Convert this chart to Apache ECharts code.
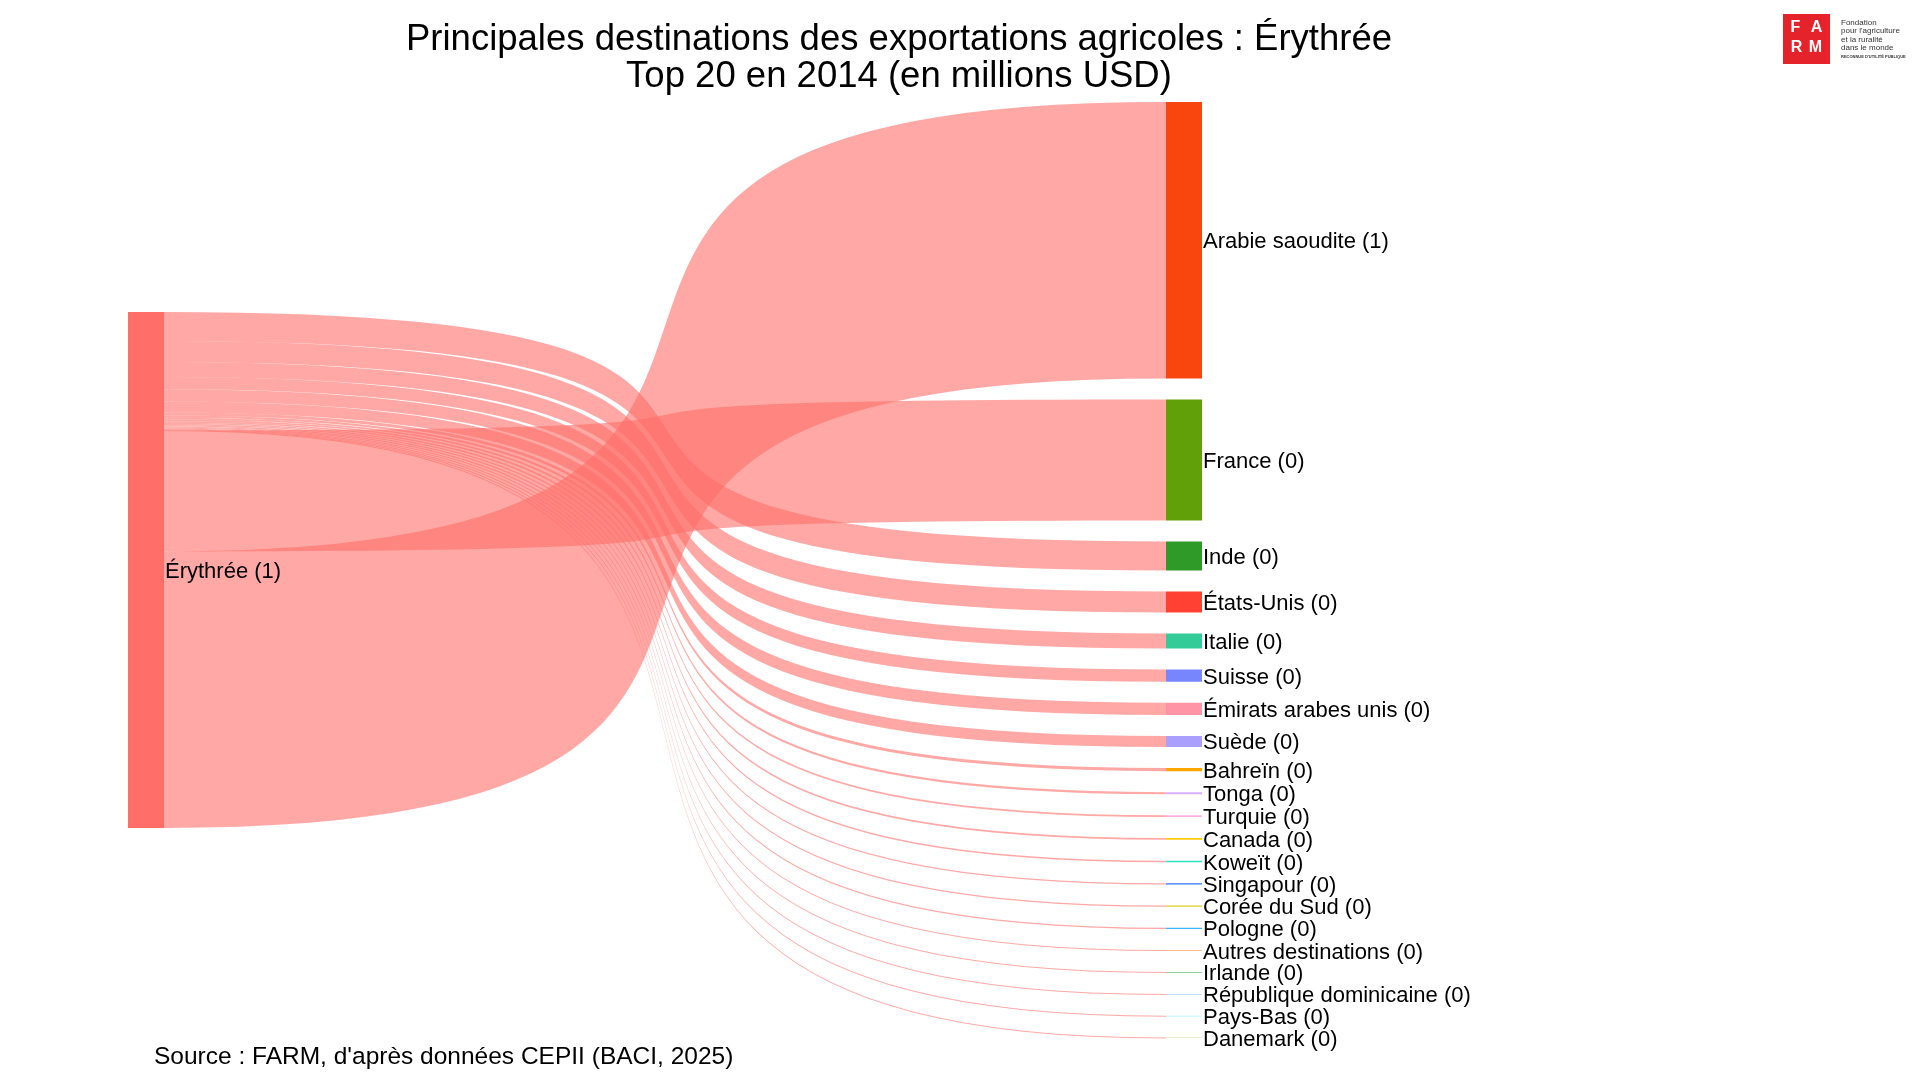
<!DOCTYPE html>
<html>
<head>
<meta charset="UTF-8">
<title>Exportations agricoles Érythrée</title>
<script type="text/javascript" src="https://cdn.jsdelivr.net/npm/echarts@6/dist/echarts.min.js"></script>
<style>
html,body{margin:0;padding:0;background:#fff;}
</style>
</head>
<body>
<div id="main" style="width:1920px;height:1080px;"></div>

<script type="text/javascript">
// pays exportateur
var source = 'Érythrée';
// destinations, de haut en bas
var destinations = ['Arabie saoudite', 'France', 'Inde', 'États-Unis', 'Italie', 'Suisse',
  'Émirats arabes unis', 'Suède', 'Bahreïn', 'Tonga', 'Turquie', 'Canada', 'Koweït',
  'Singapour', 'Corée du Sud', 'Pologne', 'Autres destinations', 'Irlande',
  'République dominicaine', 'Pays-Bas', 'Danemark'];
// valeurs en millions USD
var values = [0.75, 0.328, 0.0785, 0.0569, 0.0406, 0.0333, 0.0332, 0.0298, 0.0087, 0.0057,
  0.005, 0.0043, 0.0042, 0.0037, 0.0034, 0.003, 0.0028, 0.0025, 0.0022, 0.002, 0.0015];
// ordre des flux au départ du noeud source (les deux plus gros en bas, comme sur l'original)
var linkOrder = [2, 3, 4, 5, 6, 7, 8, 9, 10, 11, 12, 13, 14, 15, 16, 17, 18, 19, 20, 1, 0];

var sourceColor = '#ff6e69';
var destColors = ['#f9460f', '#62a00a', '#2f9a28', '#ff4133', '#33cc99', '#7886fe',
  '#ff94a6', '#aa9ffd', '#ffa500', '#d8b0ff', '#ffb0ec', '#ffc700', '#2ee0c0',
  '#2f74ff', '#d6d01a', '#38b8ff', '#ffbd8a', '#8ccc9a', '#aed4ff', '#a8f0ff', '#d4e4a8'];

var mychart = echarts.init(document.getElementById('main'));

var layoutTop = 102, layoutHeight = 936, gap = 21;

// echelle verticale identique a celle de la serie sankey
var total = 0;
for (var i = 0; i < values.length; i++) total += values[i];
var ky = (layoutHeight - (destinations.length - 1) * gap) / total;

// position de chaque destination (empilement de haut en bas)
var posY = [];
var acc = 0;
for (var i = 0; i < destinations.length; i++) {
  posY.push(acc / layoutHeight);
  acc += values[i] * ky + gap;
}

// noeuds et liens
var nodes = [{
  name: source,
  itemStyle: {color: sourceColor},
  localY: (layoutHeight - total * ky) / 2 / layoutHeight
}];
var links = [];
for (var k = 0; k < linkOrder.length; k++) {
  var i = linkOrder[k];
  nodes.push({name: destinations[i], itemStyle: {color: destColors[i]}, localY: posY[i]});
  links.push({source: source, target: destinations[i], value: values[i]});
}

var font = '"Liberation Sans", Arial, sans-serif';

var option = {
  backgroundColor: '#fff',
  animation: false,
  graphic: [
    {type: 'text', x: 899, y: 40, style: {text: 'Principales destinations des exportations agricoles : Érythrée',
      font: '36.5px ' + font, fill: '#000', align: 'center', verticalAlign: 'middle'}},
    {type: 'text', x: 899, y: 77, style: {text: 'Top 20 en 2014 (en millions USD)',
      font: '36.5px ' + font, fill: '#000', align: 'center', verticalAlign: 'middle'}},
    {type: 'text', x: 154, y: 1057, style: {text: "Source : FARM, d'après données CEPII (BACI, 2025)",
      font: '24.5px ' + font, fill: '#000', align: 'left', verticalAlign: 'middle'}},
    // logo FARM
    {type: 'rect', shape: {x: 1783, y: 14, width: 47, height: 50}, style: {fill: '#e5232b'}},
    {type: 'text', x: 1795.5, y: 28, style: {text: 'F', font: 'bold 16px ' + font, fill: '#fff', align: 'center', verticalAlign: 'middle'}},
    {type: 'text', x: 1816.5, y: 28, style: {text: 'A', font: 'bold 16px ' + font, fill: '#fff', align: 'center', verticalAlign: 'middle'}},
    {type: 'text', x: 1796.5, y: 48, style: {text: 'R', font: 'bold 16px ' + font, fill: '#fff', align: 'center', verticalAlign: 'middle'}},
    {type: 'text', x: 1815.5, y: 48, style: {text: 'M', font: 'bold 16px ' + font, fill: '#fff', align: 'center', verticalAlign: 'middle'}},
    {type: 'text', x: 1841, y: 23, style: {text: 'Fondation', font: '8px ' + font, fill: '#333', verticalAlign: 'middle'}},
    {type: 'text', x: 1841, y: 31, style: {text: "pour l'agriculture", font: '8px ' + font, fill: '#333', verticalAlign: 'middle'}},
    {type: 'text', x: 1841, y: 39.5, style: {text: 'et la ruralité', font: '8px ' + font, fill: '#333', verticalAlign: 'middle'}},
    {type: 'text', x: 1841, y: 48, style: {text: 'dans le monde', font: '8px ' + font, fill: '#333', verticalAlign: 'middle'}},
    {type: 'text', x: 1841, y: 57, style: {text: "RECONNUE D'UTILITÉ PUBLIQUE", font: 'bold 4px ' + font, fill: '#333', verticalAlign: 'middle'}}
  ],
  series: [{
    type: 'sankey',
    left: 128,
    top: layoutTop,
    width: 1074,
    height: layoutHeight,
    nodeWidth: 36,
    nodeGap: gap,
    layoutIterations: 0,
    draggable: false,
    emphasis: {disabled: true},
    data: nodes,
    links: links,
    itemStyle: {borderWidth: 0},
    lineStyle: {color: sourceColor, opacity: 0.6, curveness: 0.85},
    label: {
      position: 'right',
      distance: 1,
      offset: [0, 2],
      color: '#000',
      fontFamily: font,
      fontSize: 22,
      formatter: function (p) { return p.name + ' (' + Math.round(p.value) + ')'; }
    }
  }]
};

mychart.setOption(option);
</script>
</body>
</html>
